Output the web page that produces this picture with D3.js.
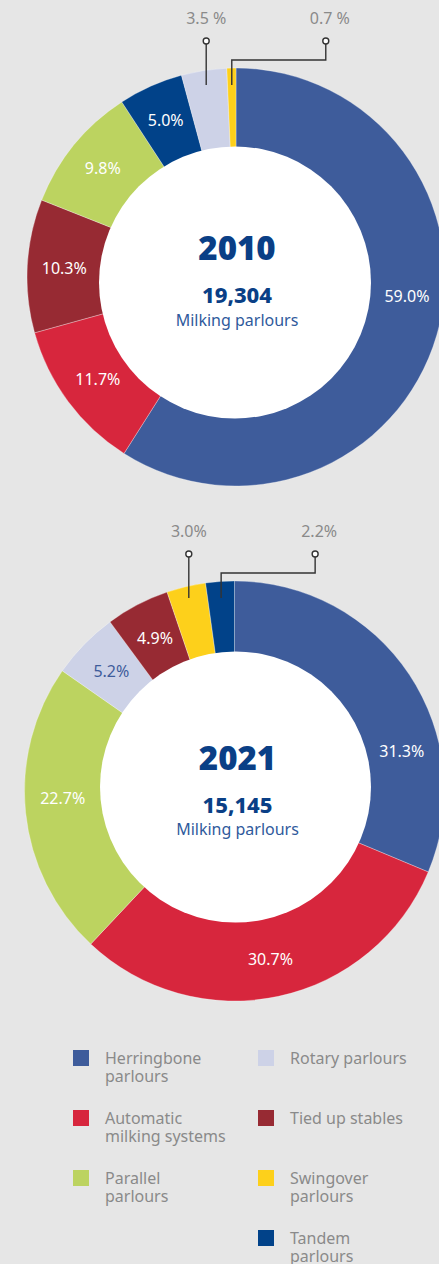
<!DOCTYPE html>
<html>
<head>
<meta charset="utf-8">
<script src="https://cdn.jsdelivr.net/npm/d3@7"></script>
<style>
  body { margin: 0; background: #e6e6e6; }
  svg { display: block; font-family: "Noto Sans", sans-serif; }
</style>
</head>
<body>
<svg id="chart" width="439" height="1264"></svg>
<script>
// categories and their colours (legend order)
const categories = ["Herringbone parlours", "Automatic milking systems", "Parallel parlours",
  "Rotary parlours", "Tied up stables", "Swingover parlours", "Tandem parlours"];
const colors = ["#3e5c9b", "#d7263d", "#bcd360", "#cdd2e7", "#972a33", "#fdd01b", "#014289"];
const legendLines = [["Herringbone", "parlours"], ["Automatic", "milking systems"], ["Parallel", "parlours"],
  ["Rotary parlours"], ["Tied up stables"], ["Swingover", "parlours"], ["Tandem", "parlours"]];

// 2010
const slices2010 = ["Herringbone parlours", "Automatic milking systems", "Tied up stables",
  "Parallel parlours", "Tandem parlours", "Rotary parlours", "Swingover parlours"];
const values2010 = [59.0, 11.7, 10.3, 9.8, 5.0, 3.5, 0.7];
const labels2010 = ["59.0%", "11.7%", "10.3%", "9.8%", "5.0%", "3.5 %", "0.7 %"];

// 2021
const slices2021 = ["Herringbone parlours", "Automatic milking systems", "Parallel parlours",
  "Rotary parlours", "Tied up stables", "Swingover parlours", "Tandem parlours"];
const values2021 = [31.3, 30.7, 22.7, 5.2, 4.9, 3.0, 2.2];
const labels2021 = ["31.3%", "30.7%", "22.7%", "5.2%", "4.9%", "3.0%", "2.2%"];

const years = ["2010", "2021"];
const totals = ["19,304", "15,145"];

const svg = d3.select("#chart");
const color = d3.scaleOrdinal().domain(categories).range(colors);

// layout of the two rings (outer centre, radius, white hole)
const rings = [
  { cx: 236, cy: 277, R: 209, hx: 235, hy: 282.5, hr: 136 },
  { cx: 234.5, cy: 791, R: 210, hx: 235.5, hy: 787, hr: 135.5 }
];

const pie = d3.pie().sort(null).value(d => d.value);

function drawDonut(idx, names, values, labels) {
  const p = rings[idx];
  const data = names.map((n, i) => ({ name: n, value: values[i], label: labels[i] }));
  const arcs = pie(data);
  const arc = d3.arc().innerRadius(110).outerRadius(p.R);
  const g = svg.append("g").attr("transform", `translate(${p.cx},${p.cy})`);

  g.selectAll("path")
    .data(arcs)
    .enter()
    .append("path")
    .attr("d", arc)
    .attr("fill", d => color(d.data.name))
    .attr("stroke", "#ffffff")
    .attr("stroke-width", 0.3);

  // white hole
  svg.append("circle")
    .attr("cx", p.hx).attr("cy", p.hy).attr("r", p.hr)
    .attr("fill", "#ffffff");

  // labels inside the ring
  const labelR = 172;
  g.selectAll("text.in")
    .data(arcs.filter(d => d.data.value >= 4))
    .enter()
    .append("text")
    .attr("class", "in")
    .attr("transform", d => {
      let a = (d.startAngle + d.endAngle) / 2;
      // big slices: pull the label towards the horizontal
      if (d.data.value > 20) {
        const h = Math.abs(a - Math.PI / 2) < Math.abs(a - 3 * Math.PI / 2) ? Math.PI / 2 : 3 * Math.PI / 2;
        if (Math.abs(a - h) < Math.PI / 4) a = a + (h - a) * 0.6;
      }
      return `translate(${labelR * Math.sin(a)},${-labelR * Math.cos(a)})`;
    })
    .attr("text-anchor", "middle")
    .attr("dominant-baseline", "central")
    .attr("font-size", 16)
    .attr("fill", d => d3.hsl(color(d.data.name)).l > 0.8 ? "#3e5c9b" : "#ffffff")
    .text(d => d.data.label);

  // small slices: leader lines and labels above the ring
  const small = arcs.filter(d => d.data.value < 4);
  const topY = -p.R;
  small.forEach((d, i) => {
    const a = (d.startAngle + d.endAngle) / 2;
    const endY = topY + 17;
    const r = -endY / Math.cos(a);
    const ex = r * Math.sin(a);
    const dotY = topY - 27;
    let pts;
    let dotX;
    if (i === 0) {
      dotX = ex;
      pts = [[ex, endY], [ex, dotY]];
    } else {
      dotX = ex + 94;
      const elbowY = topY - 8;
      pts = [[ex, endY], [ex, elbowY], [dotX, elbowY], [dotX, dotY]];
    }
    g.append("path")
      .attr("d", d3.line()(pts))
      .attr("fill", "none")
      .attr("stroke", "#333333")
      .attr("stroke-width", 1.4);
    g.append("circle")
      .attr("cx", dotX).attr("cy", dotY).attr("r", 3)
      .attr("fill", "#ffffff")
      .attr("stroke", "#333333")
      .attr("stroke-width", 1.4);
    g.append("text")
      .attr("x", dotX + (i === 0 ? 0 : 4))
      .attr("y", dotY - 23)
      .attr("text-anchor", "middle")
      .attr("dominant-baseline", "central")
      .attr("font-size", 16)
      .attr("fill", "#8a8a8a")
      .text(d.data.label);
  });

  // centre text
  const tx = p.hx + 2;
  const ty = (p.cy + p.hy) / 2;
  svg.append("text")
    .attr("x", tx).attr("y", ty - 19.5)
    .attr("text-anchor", "middle")
    .attr("font-size", 33).attr("font-weight", 900)
    .attr("fill", "#0a3f86")
    .text(years[idx]);
  svg.append("text")
    .attr("x", tx).attr("y", ty + 23.5)
    .attr("text-anchor", "middle")
    .attr("font-size", 22).attr("font-weight", 800)
    .attr("fill", "#0a3f86")
    .text(totals[idx]);
  svg.append("text")
    .attr("x", tx).attr("y", ty + 46)
    .attr("text-anchor", "middle")
    .attr("font-size", 16)
    .attr("fill", "#2f5a9c")
    .text("Milking parlours");
}

drawDonut(0, slices2010, values2010, labels2010);
drawDonut(1, slices2021, values2021, labels2021);

// legend: two columns
const legendCol = [0, 0, 0, 1, 1, 1, 1];
const legendRow = [0, 1, 2, 0, 1, 2, 3];
const colX = d3.scaleOrdinal().domain([0, 1]).range([73, 258]);
const rowY = d3.scaleLinear().domain([0, 3]).range([1050, 1230]);

const legend = svg.append("g");
categories.forEach((c, i) => {
  const x = colX(legendCol[i]);
  const y = rowY(legendRow[i]);
  legend.append("rect")
    .attr("x", x).attr("y", y)
    .attr("width", 16).attr("height", 16)
    .attr("fill", color(c));
  legendLines[i].forEach((line, j) => {
    legend.append("text")
      .attr("x", x + 32)
      .attr("y", y + 8 + j * 18)
      .attr("dominant-baseline", "central")
      .attr("font-size", 16)
      .attr("fill", "#8a8a8a")
      .text(line);
  });
});
</script>
</body>
</html>
